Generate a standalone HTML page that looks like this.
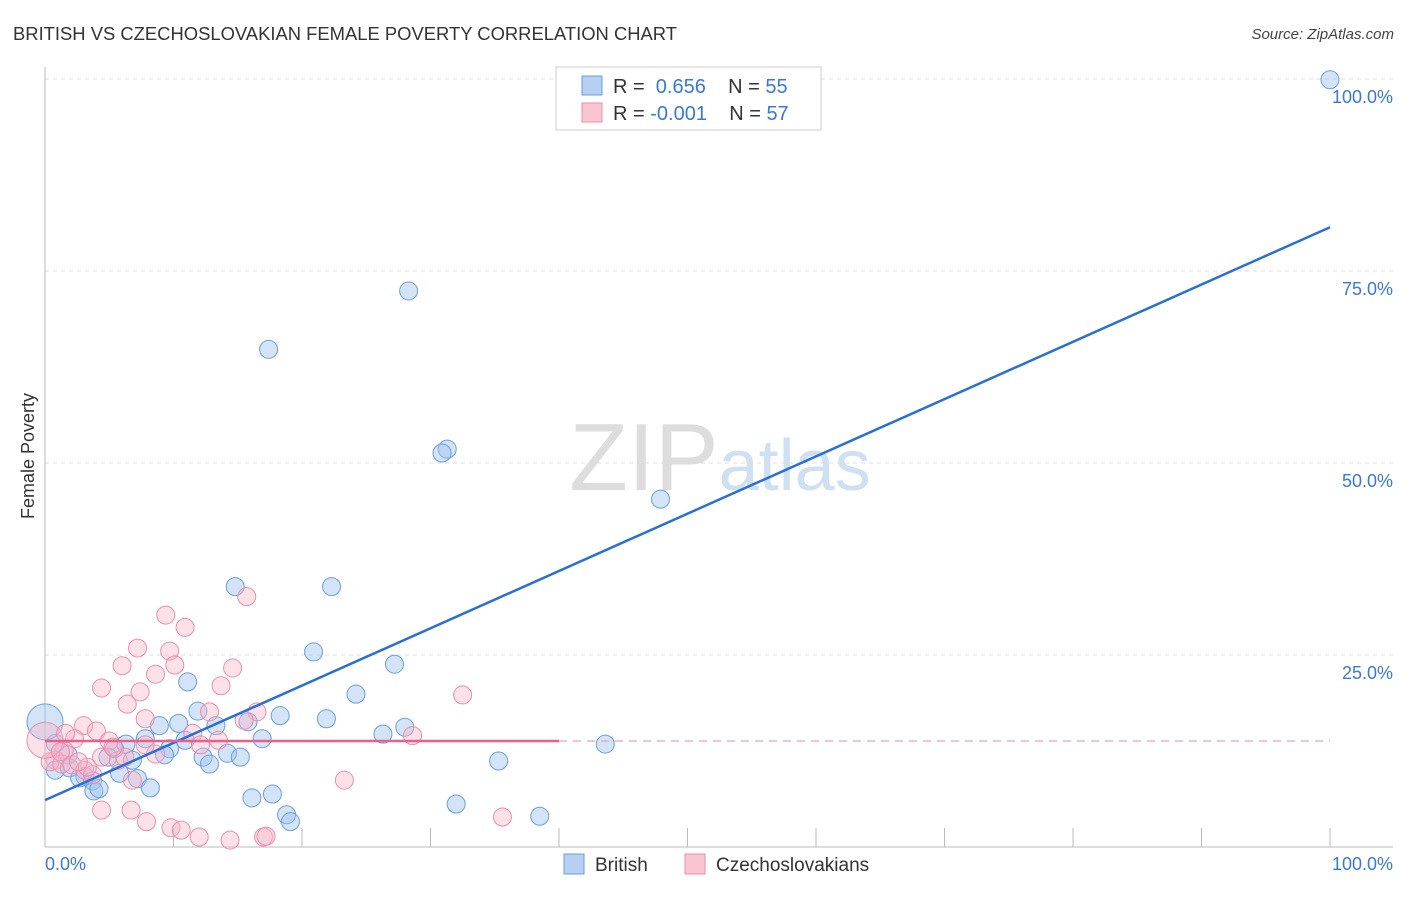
<!DOCTYPE html>
<html><head><meta charset="utf-8"><style>
body{margin:0;background:#fff;font-family:"Liberation Sans",sans-serif;}
svg text{font-family:"Liberation Sans",sans-serif;}
</style></head><body>
<svg width="1406" height="892" xmlns="http://www.w3.org/2000/svg">
<text x="13" y="40" font-size="18" fill="#333" textLength="664" lengthAdjust="spacingAndGlyphs">BRITISH VS CZECHOSLOVAKIAN FEMALE POVERTY CORRELATION CHART</text>
<text x="1394" y="39" font-size="15" fill="#444" font-style="italic" text-anchor="end">Source: ZipAtlas.com</text>
<text x="720" y="490" font-size="96" text-anchor="middle" fill="#ddd" font-family="Liberation Serif"><tspan>ZIP</tspan><tspan fill="#cfe0f3" font-family="Liberation Sans" font-size="72">atlas</tspan></text>
<g id="grid"></g>
<g id="marks"></g>
<text transform="translate(34,456) rotate(-90)" font-size="18" fill="#333" text-anchor="middle">Female Poverty</text>
<g>
<rect x="556" y="67" width="265" height="63" fill="#fff" stroke="#ccc"/>
<rect x="582" y="76" width="20" height="19" fill="#b6d0f2" stroke="#6a9de0"/>
<rect x="582" y="103" width="20" height="19" fill="#f9c5d3" stroke="#eb8fab"/>
<text x="613" y="93" font-size="20" fill="#333">R = <tspan fill="#3a78d8">&#160;0.656</tspan>&#160;&#160;&#160; N = <tspan fill="#3a78d8">55</tspan></text>
<text x="613" y="120" font-size="20" fill="#333">R = <tspan fill="#3a78d8">-0.001</tspan>&#160;&#160;&#160; N = <tspan fill="#3a78d8">57</tspan></text>
</g>
<g>
<rect x="564" y="854" width="20" height="20" fill="#b6d0f2" stroke="#6a9de0"/>
<text x="595" y="871" font-size="19" fill="#333">British</text>
<rect x="685" y="854" width="20" height="20" fill="#f9c5d3" stroke="#eb8fab"/>
<text x="716" y="871" font-size="19" fill="#333">Czechoslovakians</text>
</g>
</svg>
<script>
const blueX=[100,28.3,17.4,31.3,30.9,47.9,14.8,22.3,20.9,27.2,11.1,24.2,18.3,11.9,10.4,8.9,21.9,13.3,15.8,28.0,26.3,16.9,10.9,7.8,6.3,43.6,5.4,9.7,14.2,15.2,12.3,9.3,6.8,35.3,12.8,4.9,1.8,0.8,0,0.8,1.9,3.1,3.7,5.8,7.2,8.2,3.8,4.2,17.7,16.1,32.0,38.5,18.8,19.1,2.7];
const blueY=[99.9,72.4,64.8,51.8,51.3,45.3,33.9,33.9,25.4,23.8,21.5,19.9,17.1,17.7,16.1,15.8,16.7,15.8,16.3,15.6,14.7,14.1,13.9,14.1,13.4,13.4,12.8,12.8,12.2,11.7,11.7,12.0,11.3,11.2,10.8,11.7,12.0,13.5,16.3,10.0,10.3,9.2,8.6,9.6,8.9,7.7,7.3,7.6,6.9,6.4,5.6,4.0,4.2,3.3,9.0];
const pinkX=[9.4,10.9,15.7,7.2,9.7,6.0,10.1,14.6,8.6,4.4,13.7,7.4,32.5,6.4,7.8,12.8,16.5,11.5,15.5,3.0,4.0,2.3,5.0,13.5,8.6,1.5,4.4,5.7,0.8,0.4,1.3,2.1,3.1,3.7,6.8,23.3,28.6,4.4,6.7,7.9,9.8,10.6,12.0,14.4,17.0,17.2,35.6,0,6.2,1.6,3.3,5.3,1.2,2.6,7.8,12.1];
const pinkY=[30.2,28.6,32.6,25.9,25.5,23.6,23.7,23.3,22.5,20.7,21.0,20.2,19.8,18.6,16.7,17.6,17.6,14.8,16.5,15.8,15.1,14.1,13.8,13.9,12.1,12.6,11.7,11.3,11.3,11.1,10.8,10.7,10.0,9.4,8.7,8.7,14.5,4.8,4.8,3.3,2.5,2.2,1.3,0.9,1.3,1.4,3.9,13.9,11.7,14.8,10.4,13.0,12.4,11.1,13.3,13.3];
const blueLine=[6.1,80.7];
const pinkLine=13.8;
const yTicks=[25,50,75,100];
const xTickVals=[10,20,30,40,50,60,70,80,90,100];
const NS='http://www.w3.org/2000/svg';
const sx=v=>45+v*12.85, sy=v=>847-v*7.68;
function mk(tag,attrs,parent){const e=document.createElementNS(NS,tag);for(const k in attrs)e.setAttribute(k,attrs[k]);parent.appendChild(e);return e;}
const grid=document.getElementById('grid'), marks=document.getElementById('marks');
yTicks.forEach(t=>{
 const l=mk('line',{x1:45,x2:1393,y1:sy(t),y2:sy(t),stroke:'#ddd','stroke-dasharray':'4,4'},grid);
 
 
 const tx=mk('text',{x:1393,y:sy(t)+24,'font-size':18,fill:'#3a78d8','text-anchor':'end'},grid);
 tx.textContent=t.toFixed(1)+'%';
 
 
});
xTickVals.forEach(t=>{
 const l=mk('line',{x1:sx(t),x2:sx(t),y1:828,y2:847,stroke:'#bbb'},grid);
 
 
});
mk('line',{x1:45,x2:1393,y1:847,y2:847,stroke:'#bbb'},grid);
mk('line',{x1:45,x2:45,y1:67,y2:847,stroke:'#bbb'},grid);
const x0=mk('text',{x:45,y:870,'font-size':18,fill:'#3a78d8'},grid);x0.textContent='0.0%';


const x1=mk('text',{x:1393,y:870,'font-size':18,fill:'#3a78d8','text-anchor':'end'},grid);x1.textContent='100.0%';


blueX.forEach((x,i)=>{
 const c=mk('circle',{cx:sx(x),cy:sy(blueY[i]),r:(x===0?18:9),fill:'rgba(160,196,240,0.45)',stroke:'#6a9de0','stroke-width':1},marks);
 
 
});
pinkX.forEach((x,i)=>{
 const c=mk('circle',{cx:sx(x),cy:sy(pinkY[i]),r:(x===0?18:9),fill:'rgba(248,180,200,0.4)',stroke:'#eb8fab','stroke-width':1},marks);
 
 
});
const bl=mk('line',{x1:sx(0),y1:sy(blueLine[0]),x2:sx(100),y2:sy(blueLine[1]),stroke:'#2a6fd6','stroke-width':2.5},marks);


const pl=mk('line',{x1:sx(0),y1:sy(pinkLine),x2:sx(40),y2:sy(pinkLine),stroke:'#e8618a','stroke-width':2.5},marks);


const pd=mk('line',{x1:sx(40),y1:sy(pinkLine),x2:sx(100),y2:sy(pinkLine),stroke:'#e8a0b8','stroke-width':1.2,'stroke-dasharray':'8,6'},marks);


</script>
</body></html>
